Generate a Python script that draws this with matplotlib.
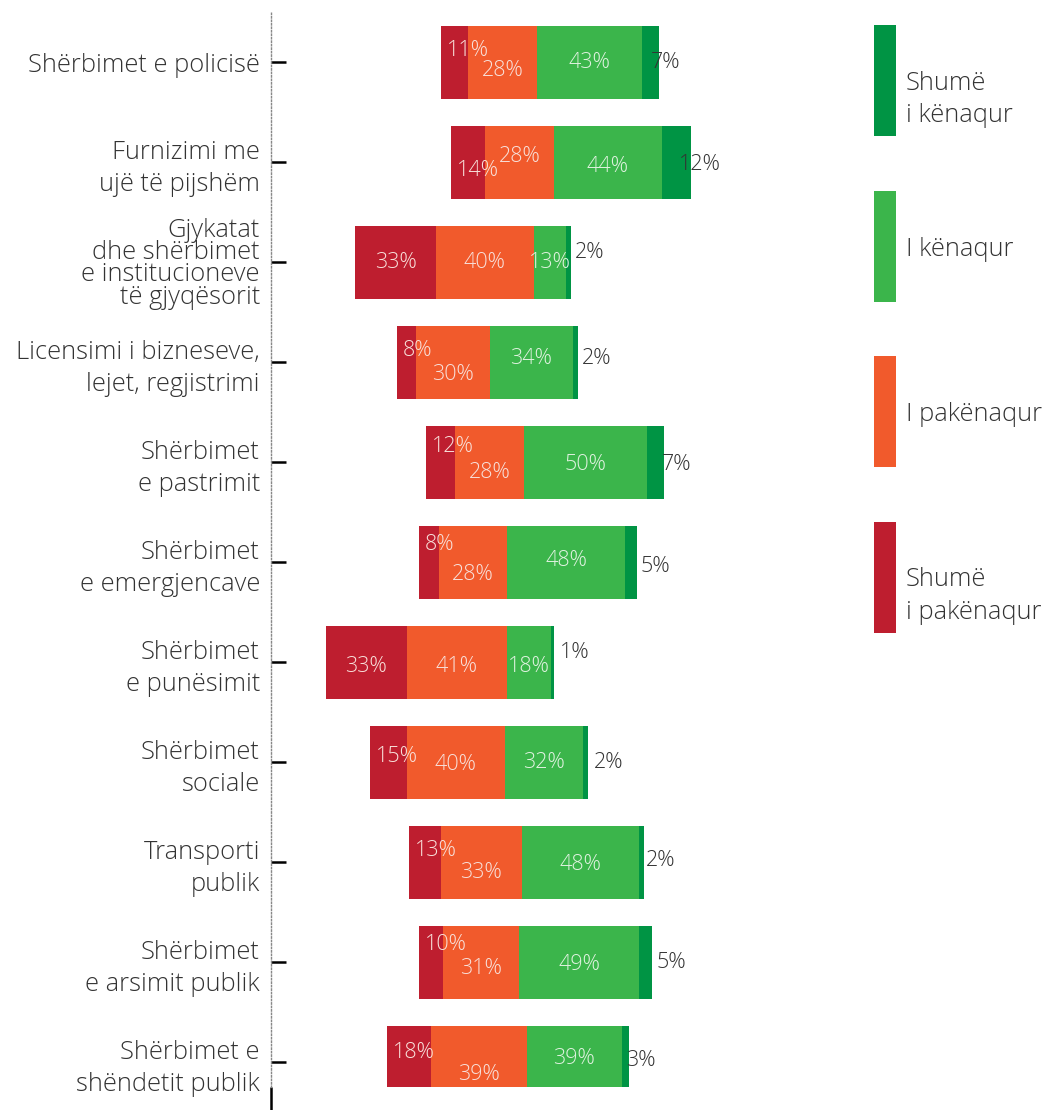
import numpy as np
import matplotlib.pyplot as plt
from matplotlib.patches import Rectangle

# data (percent)
categories = [
    "Shërbimet e policisë",
    "Furnizimi me\nujë të pijshëm",
    "Gjykatat\ndhe shërbimet\ne institucioneve\ntë gjyqësorit",
    "Licensimi i bizneseve,\nlejet, regjistrimi",
    "Shërbimet\ne pastrimit",
    "Shërbimet\ne emergjencave",
    "Shërbimet\ne punësimit",
    "Shërbimet\nsociale",
    "Transporti\npublik",
    "Shërbimet\ne arsimit publik",
    "Shërbimet e\nshëndetit publik",
]
# invisible leading segment (bars are shifted in the original)
spacer = [69.4, 73.5, 34.3, 51.3, 63.3, 60.4, 22.4, 40.4, 56.3, 60.4, 47.3]
very_unsat = [11, 14, 33, 8, 12, 8, 33, 15, 13, 10, 18]
unsat = [28, 28, 40, 30, 28, 28, 41, 40, 33, 31, 39]
sat = [43, 44, 13, 34, 50, 48, 18, 32, 48, 49, 39]
very_sat = [7, 12, 2, 2, 7, 5, 1, 2, 2, 5, 3]

series_names = ["Shumë\ni kënaqur", "I kënaqur", "I pakënaqur", "Shumë\ni pakënaqur"]

# label nudges (layout only): vertical in px, dark-green label x shift in %
dy_red = [-12, 8, 1, -11, -15, -18, 4, -6, -11, -17, -10]
dy_org = [8, -5, 1, 13, 11, 13, 4, 2, 10, 7, 12]
dy_grn = [1, 5, 1, -4, 3, -2, 4, 0, 2, 2, -3]
dy_dk = [1, 3, -9, -4, 3, 5, -10, 0, -2, 1, -1]
dx_dk = [-3.3, -4.9, 1.6, 1.5, -0.9, 1.5, 2.4, 2.4, 0.8, 2.0, -1.2]

c_vu = "#BE1E2F"
c_u = "#F15A2C"
c_s = "#3BB54B"
c_vs = "#009444"

plt.rcParams["font.family"] = ["Open Sans", "DejaVu Sans"]
plt.rcParams["font.weight"] = "light"

W, H = 1046, 1110
fig = plt.figure(figsize=(W / 100, H / 100), dpi=100)

px = 2.45  # pixels per percent
x0 = 271
ax = fig.add_axes([x0 / W, (H - 1087) / H, 240 * px / W, (1087 - 12) / H])

y = np.arange(len(categories))
left = np.array(spacer, dtype=float)
hgt = 0.73
segs = [(very_unsat, c_vu), (unsat, c_u), (sat, c_s), (very_sat, c_vs)]
lefts = []
for vals, col in segs:
    ax.barh(y, vals, left=left, height=hgt, color=col, linewidth=0)
    lefts.append(left.copy())
    left = left + np.array(vals)

lab_col = "#F8E0DA"
fs_in = 15.5
for i in range(len(categories)):
    # very unsatisfied
    l0 = lefts[0][i]
    v = very_unsat[i]
    if v < 20:
        ax.text(l0 + 2.5, y[i] + dy_red[i] / 100, f"{v}%", ha="left", va="center",
                color=lab_col, fontsize=fs_in)
    else:
        ax.text(l0 + v / 2, y[i] + dy_red[i] / 100, f"{v}%", ha="center", va="center",
                color=lab_col, fontsize=fs_in)
    # unsatisfied
    ax.text(lefts[1][i] + unsat[i] / 2, y[i] + dy_org[i] / 100, f"{unsat[i]}%",
            ha="center", va="center", color=lab_col, fontsize=fs_in)
    # satisfied
    ax.text(lefts[2][i] + sat[i] / 2, y[i] + dy_grn[i] / 100, f"{sat[i]}%",
            ha="center", va="center", color="#E0F2E0", fontsize=fs_in)
    # very satisfied
    end = lefts[3][i] + very_sat[i]
    ax.text(end + dx_dk[i], y[i] + dy_dk[i] / 100, f"{very_sat[i]}%",
            ha="left", va="center", color="#333333", fontsize=fs_in)

fs_cat = 18.4
ax.set_xlim(0, 240)
ax.set_ylim(10.25, -0.5)
ax.set_yticks(y)
ax.set_yticklabels(categories, fontsize=fs_cat, color="#333333", linespacing=1.38,
                   ha="right", multialignment="right")
for t, c in zip(ax.get_yticklabels(), categories):
    if c.count("\n") > 2:
        t.set_linespacing(0.86)
ax.tick_params(axis="y", direction="in", length=11, width=1.8, color="black", pad=8)
ax.set_xticks([0])
ax.set_xticklabels([""])
ax.tick_params(axis="x", direction="out", length=18, width=1.8, color="black")

for s in ["top", "right", "bottom"]:
    ax.spines[s].set_visible(False)
ax.spines["left"].set_linestyle((0, (1, 1.5)))
ax.spines["left"].set_color("#888888")
ax.spines["left"].set_linewidth(1)

# legend on the right
lg = fig.add_axes([0, 0, 1, 1])
lg.set_xlim(0, W)
lg.set_ylim(H, 0)
lg.axis("off")
leg_cols = [c_vs, c_s, c_u, c_vu]
for k, (name, col) in enumerate(zip(series_names, leg_cols)):
    top = 25 + k * 165.5
    lg.add_patch(Rectangle((874, top), 22, 111, color=col, linewidth=0))
    lg.text(906, top + 46, name, ha="left", va="top", fontsize=fs_cat,
            color="#333333", linespacing=1.38)

fig.savefig("out.png", dpi=100)
